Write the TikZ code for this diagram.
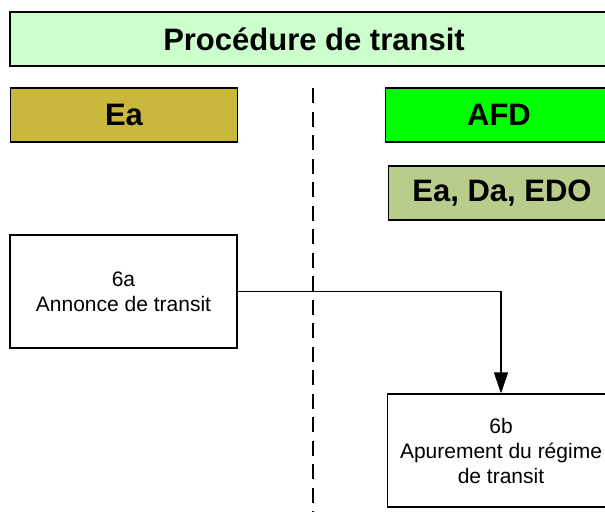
\documentclass[tikz,border=0pt]{standalone}
\usepackage{fontspec}
\setmainfont{Liberation Sans}
\usepackage{tikz}
\usepackage{xcolor}
\usetikzlibrary{arrows.meta,positioning}
\definecolor{titlegreen}{RGB}{204,255,204}
\definecolor{eagold}{RGB}{201,184,60}
\definecolor{afdgreen}{RGB}{0,255,0}
\definecolor{edogreen}{RGB}{184,204,140}

\begin{document}
\begin{tikzpicture}[x=1pt, y=-1pt, line width=1.2pt,
    header/.style={rectangle, draw, minimum height=54pt, inner sep=0pt,
        font=\fontsize{31}{36}\selectfont\bfseries},
    actor/.style={header, minimum width=227pt},
    stepbox/.style={rectangle, draw, fill=white, minimum width=227pt, minimum height=113pt,
        align=center, inner sep=0pt, font=\fontsize{21}{25}\selectfont},
    flow/.style={-{Triangle[length=21pt, width=14pt]}, line width=1.4pt}
]
    \clip (0,0) rectangle (605,520);

    % Title
    \node[header, fill=titlegreen, minimum width=608pt] (title) at (314,39) {Procédure de transit};

    % Actors
    \node[actor, fill=eagold] (Ea) at (124,115) {Ea};
    \node[actor, fill=afdgreen] (AFD) at (499,115) {AFD};
    \node[actor, fill=edogreen] (EDO) at (502,193) {Ea, Da, EDO};

    % Separator
    \coordinate (sepTop) at (313,88);
    \coordinate (sepBot) at (313,512);
    \draw[dash pattern=on 15pt off 8.5pt] (sepTop) -- (sepBot);

    % Steps
    \node[stepbox] (S6a) at (123.5,291.5) {6a\\Annonce de transit};
    \node[stepbox] (S6b) at (501,450.5) {6b\\Apurement du régime\\de transit};

    % Flow
    \draw[flow] (S6a.east) -| (S6b.north);
\end{tikzpicture}
\end{document}
